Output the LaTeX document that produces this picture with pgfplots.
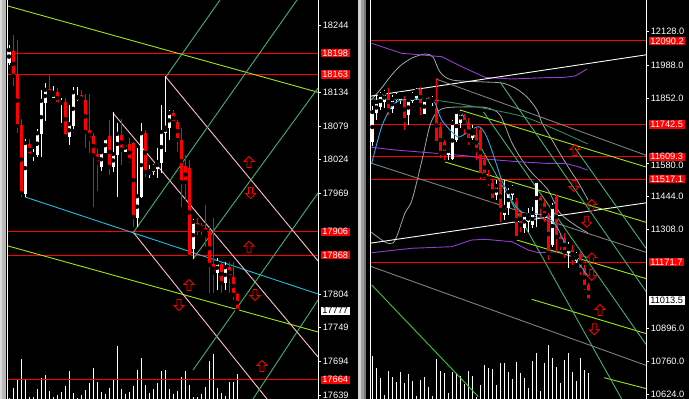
\documentclass[border=0pt]{standalone}
\usepackage{pgfplots}
\pgfplotsset{compat=1.18}
\usepackage{pgfplotstable}
\usepackage{fontspec}
\setmainfont{Liberation Sans}

\definecolor{ygreen}{RGB}{160,230,20}
\definecolor{cyanl}{RGB}{30,190,220}
\definecolor{pinkl}{RGB}{255,192,203}
\definecolor{greenl}{RGB}{60,179,113}
\definecolor{seag}{RGB}{46,139,87}
\definecolor{purp}{RGB}{150,60,210}
\definecolor{skyb}{RGB}{40,170,240}
\definecolor{silv}{RGB}{165,165,165}
\definecolor{grayl}{RGB}{128,128,128}
\definecolor{limeg}{RGB}{50,205,50}

\pgfdeclareplotmark{uparr}{%
 \pgfpathmoveto{\pgfqpoint{0bp}{5.5bp}}
 \pgfpathlineto{\pgfqpoint{5bp}{0.5bp}}
 \pgfpathlineto{\pgfqpoint{2bp}{0.5bp}}
 \pgfpathlineto{\pgfqpoint{2bp}{-5.5bp}}
 \pgfpathlineto{\pgfqpoint{-2bp}{-5.5bp}}
 \pgfpathlineto{\pgfqpoint{-2bp}{0.5bp}}
 \pgfpathlineto{\pgfqpoint{-5bp}{0.5bp}}
 \pgfpathclose\pgfusepathqstroke}
\pgfdeclareplotmark{dnarr}{%
 \pgfpathmoveto{\pgfqpoint{0bp}{-5.5bp}}
 \pgfpathlineto{\pgfqpoint{5bp}{-0.5bp}}
 \pgfpathlineto{\pgfqpoint{2bp}{-0.5bp}}
 \pgfpathlineto{\pgfqpoint{2bp}{5.5bp}}
 \pgfpathlineto{\pgfqpoint{-2bp}{5.5bp}}
 \pgfpathlineto{\pgfqpoint{-2bp}{-0.5bp}}
 \pgfpathlineto{\pgfqpoint{-5bp}{-0.5bp}}
 \pgfpathclose\pgfusepathqstroke}

% left panel candles: i open high low close
\pgfplotstableread{
i o h l c
0 18182 18211 18179 18203
4 17969 18058 17963 18051
6 18030 18041 18022 18033
7 18033 18074 18028 18067
8 18067 18138 18028 18120
9 18118 18149 18087 18138
11 18126 18144 18124 18133
13 18115 18125 18084 18118
15 18062 18113 18048 18082
16 18080 18143 18074 18134
17 18123 18143 18120 18126
23 18013 18040 18005 18036
24 18036 18061 18035 18059
26 18012 18102 18004 18033
27 18033 18084 17963 18066
29 18038 18053 18036 18049
32 17930 18043 17914 17964
33 17963 18084 17961 18067
35 17999 18015 17994 18005
36 18004 18017 17999 18012
37 18010 18043 17994 18020
38 18020 18113 18002 18069
39 18069 18160 18036 18076
40 18076 18105 18056 18100
46 17879 17927 17861 17922
52 17839 17863 17811 17855
54 17823 17857 17811 17848
}\Lbull
\pgfplotstableread{
i o h l c
1 18200 18228 18144 18161
2 18162 18220 18067 18079
3 18079 18090 17963 17969
5 18049 18058 18028 18031
10 18138 18164 18128 18131
12 18134 18141 18112 18115
14 18118 18125 18059 18062
18 18128 18138 18116 18120
19 18120 18131 18043 18069
20 18071 18131 18035 18058
21 18061 18067 17946 18031
22 18033 18041 17973 18018
25 18061 18089 17999 18012
28 18064 18090 18015 18040
30 18048 18059 18018 18023
31 18051 18053 17914 17930
34 18066 18072 17996 18004
41 18100 18105 18080 18084
42 18085 18088 18036 18056
43 18056 18076 17946 17987
44 18012 18031 17958 17987
45 18010 18023 17862 17865
47 17920 17928 17901 17910
48 17917 17921 17901 17909
49 17912 17950 17881 17901
50 17906 17915 17806 17852
51 17852 17928 17806 17839
53 17852 17857 17806 17822
55 17847 17857 17806 17832
56 17832 17857 17794 17803
57 17803 17806 17775 17777
}\Lbear
\pgfplotstableread{
i v
0 1
1 10.7
2 19.7
3 40
4 19.7
5 2.3
6 2.3
7 10
8 21.3
9 24
10 8
11 2.3
12 4
13 6.7
14 13
15 28
16 5.7
17 1.3
18 3.7
19 9
20 16.3
21 30.7
22 17.3
23 7.3
24 4.7
25 10.7
26 19
27 53.3
28 10
29 4.7
30 7.3
31 13
32 29
33 40.7
34 14
35 5.7
36 9.7
37 16.3
38 28.3
39 29
40 9.7
41 4.7
42 8
43 22.3
44 28
45 14
46 2.3
47 2.3
48 4.7
49 11.7
50 38
51 45
52 10.7
53 5.7
54 3
55 17.3
56 17.3
57 25.3
}\Lvol

% right panel candles
\pgfplotstableread{
k o h l c
0 11670.5 11819.8 11653.9 11794.9
1 11790.8 11865.4 11761.7 11836.4
2 11815.7 11877.9 11803.2 11865.4
3 11836.4 11886.2 11811.5 11873.7
5 11807.4 11865.4 11790.8 11848.8
6 11848.8 11873.7 11832.3 11861.3
7 11844.7 11877.9 11828.1 11869.6
9 11782.5 11853.0 11741.0 11844.7
10 11840.6 11877.9 11832.3 11865.4
11 11857.1 11894.5 11844.7 11882.0
13 11790.8 11853.0 11786.6 11844.7
15 11832.3 11861.3 11819.8 11848.8
19 11616.6 11658.0 11595.8 11649.7
20 11604.1 11761.7 11595.8 11749.3
21 11678.8 11803.2 11670.5 11794.9
22 11753.4 11803.2 11728.6 11790.8
25 11691.2 11741.0 11678.8 11720.3
31 11450.6 11512.9 11429.9 11488.0
33 11367.7 11512.9 11347.0 11400.9
34 11396.7 11479.7 11367.7 11463.1
35 11450.6 11492.1 11429.9 11479.7
38 11313.8 11376.0 11293.0 11367.7
39 11338.6 11396.7 11297.2 11367.7
40 11326.2 11400.9 11313.8 11376.0
41 11367.7 11512.9 11317.9 11508.7
45 11243.2 11417.5 11235.0 11400.9
49 11214.2 11255.7 11147.8 11239.1
51 11181.0 11214.2 11168.6 11201.8
}\Rbull
\pgfplotstableread{
k o h l c
4 11869.6 11894.5 11782.5 11803.2
8 11848.8 11861.3 11720.3 11761.7
12 11890.3 11898.6 11782.5 11824.0
14 11848.8 11857.1 11824.0 11832.3
16 11811.5 11936.0 11658.0 11666.3
17 11732.7 11753.4 11604.1 11624.9
18 11670.5 11678.8 11595.8 11624.9
23 11774.2 11786.6 11699.5 11732.7
24 11749.3 11770.0 11658.0 11678.8
26 11699.5 11728.6 11595.8 11637.3
27 11720.3 11728.6 11512.9 11533.6
28 11595.8 11616.6 11521.2 11533.6
29 11533.6 11554.3 11488.0 11504.6
30 11500.4 11512.9 11417.5 11429.9
32 11500.4 11521.2 11338.6 11388.4
36 11421.6 11438.2 11264.0 11272.3
37 11376.0 11388.4 11297.2 11326.2
42 11438.2 11446.5 11359.4 11400.9
43 11417.5 11429.9 11338.6 11367.7
44 11367.7 11376.0 11181.0 11210.1
46 11442.3 11450.6 11214.2 11276.4
47 11276.4 11293.0 11222.5 11243.2
48 11272.3 11293.0 11189.3 11214.2
50 11222.5 11243.2 11160.3 11189.3
52 11201.8 11214.2 11118.8 11139.5
53 11147.8 11160.3 11056.6 11069.0
54 11077.3 11085.6 11011.0 11013.5
}\Rbear
\pgfplotstableread{
k v
0 43
1 30.7
2 20.7
3 4
4 28.3
5 21.7
6 17.3
7 26.7
8 15.7
9 24.7
10 18
11 3.3
12 19
13 21.7
14 12.3
15 3
16 40
17 28.3
18 25.7
19 5.7
20 27.3
21 25.7
22 23.3
23 14.7
24 28
25 23.3
26 2.3
27 14
28 34
29 30.7
30 30
31 14
32 35.7
33 35.7
34 27.3
35 19.7
36 36.7
37 26.3
38 20.7
39 10.7
40 38
41 46.3
42 8
43 36.3
44 54
45 40.7
46 32.3
47 15.7
48 39
49 46.3
50 27.3
51 18.3
52 41.3
53 29
54 26.3
}\Rvol

\pgfplotsset{
 mt/.style={anchor=south west, scale only axis, height=399bp,
  axis x line=none, axis y line*=right,
  y axis line style={white, line width=1bp, -},
  tick align=outside, major tick length=3bp,
  tick style={white, line width=0.8bp},
  scaled y ticks=false,
  yticklabel style={text=white, font=\fontsize{9.3}{10}\selectfont, inner xsep=1.6bp, inner ysep=0bp},
  /pgf/number format/assume math mode=true,
  /pgf/number format/1000 sep={},
  clip=true},
 vol/.style={anchor=south west, scale only axis, height=399bp, ymin=0, ymax=399, hide axis},
 wick/.style={only marks, mark=none, error bars/.cd, y dir=both, y explicit, error mark=none,
   error bar style={line width=0.9bp, draw=#1}},
 body/.style={only marks, mark=none, error bars/.cd, y dir=both, y explicit, error mark=none,
   error bar style={line width=3bp, draw=#1}},
 arr/.style={only marks, mark=#1, mark options={draw=red, fill=none, line width=0.8bp}},
 tl/.style={line width=0.9bp, mark=none},
}
\tikzset{plab/.style={fill=#1, anchor=west, inner xsep=1.6bp, inner ysep=0.9bp, font=\fontsize{9.3}{10}\selectfont, xshift=2.5bp}}

\begin{document}
\begin{tikzpicture}
\path[use as bounding box, fill=black] (0,0) rectangle (689bp,399bp);
\fill[gray!55] (0,0) rectangle (6bp,399bp);
\fill[gray!30] (0,0) rectangle (2bp,399bp);
\draw[white, line width=1bp] (7.5bp,0) -- (7.5bp,399bp);
\fill[gray!75] (358bp,0) rectangle (366bp,399bp);
\fill[gray!35] (358bp,0) rectangle (361bp,399bp);
\fill[gray!95!black] (363.5bp,0) rectangle (366bp,399bp);
\draw[white, line width=1bp] (370.5bp,0) -- (370.5bp,399bp);

% ---------- LEFT PANEL ----------
\begin{axis}[vol, at={(8bp,0)}, width=310bp, xmin=-0.25, xmax=77.25]
\addplot[ycomb, white, line width=0.9bp, mark=none] table[x=i, y=v] {\Lvol};
\end{axis}

\begin{axis}[mt, at={(8bp,0)}, width=310bp, xmin=-0.25, xmax=77.25, ymin=17632.5, ymax=18284.9,
  ytick={17639,17694,17749,17804,17969,18024,18079,18134,18244},
  /pgf/number format/fixed, /pgf/number format/precision=0]
\addplot[tl, red] coordinates {(-0.25,18198) (77.25,18198)};
\addplot[tl, red] coordinates {(-0.25,18163) (77.25,18163)};
\addplot[tl, red] coordinates {(-0.25,17906) (77.25,17906)};
\addplot[tl, red] coordinates {(-0.25,17868) (77.25,17868)};
\addplot[tl, red] coordinates {(-0.25,17664) (77.25,17664)};
\addplot[tl, ygreen] coordinates {(-0.25,18275) (77.25,18134)};
\addplot[tl, ygreen] coordinates {(-0.25,17882.7) (77.25,17742.1)};
\addplot[tl, cyanl] coordinates {(4,17962.8) (77.25,17804.2)};
\addplot[tl, pinkl] coordinates {(39.2,18159) (77.25,17858.2)};
\addplot[tl, pinkl] coordinates {(26,18100.1) (77.25,17701.2)};
\addplot[tl, pinkl] coordinates {(31,17905.6) (64.5,17632.5)};
\addplot[tl, greenl] coordinates {(39.2,18159) (52.75,18284.9)};
\addplot[tl, greenl] coordinates {(31,17904) (72,18284.9)};
\addplot[tl, greenl] coordinates {(46,17861.4) (77.25,18141.0)};
\addplot[tl, greenl] coordinates {(46,17679.9) (77.25,17969.4)};
\addplot[tl, greenl] coordinates {(61,17632.5) (77.25,17794.4)};
\addplot[wick=white] table[x=i, y=c, y error plus expr={\thisrow{h}-\thisrow{c}}, y error minus expr={\thisrow{c}-\thisrow{l}}] {\Lbull};
\addplot[wick=red] table[x=i, y=c, y error plus expr={\thisrow{h}-\thisrow{c}}, y error minus expr={\thisrow{c}-\thisrow{l}}] {\Lbear};
\addplot[body=white] table[x=i, y expr={(\thisrow{o}+\thisrow{c})/2}, y error expr={abs(\thisrow{o}-\thisrow{c})/2+0.8}] {\Lbull};
\addplot[body=red] table[x=i, y expr={(\thisrow{o}+\thisrow{c})/2}, y error expr={abs(\thisrow{o}-\thisrow{c})/2+0.8}] {\Lbear};
\addplot[arr=uparr] coordinates {(60,18020) (60,17881.5) (45,17818.9) (63.25,17686.5)};
\addplot[arr=dnarr] coordinates {(60.4,17969.3) (42.5,17786.2) (61.5,17802.6)};
\coordinate (L1) at (axis cs:77.25,18198);
\coordinate (L2) at (axis cs:77.25,18163);
\coordinate (L3) at (axis cs:77.25,17906);
\coordinate (L4) at (axis cs:77.25,17868);
\coordinate (L5) at (axis cs:77.25,17664);
\coordinate (lastL) at (axis cs:77.25,17777);
\end{axis}
\node[plab=red, text=white] at (L1) {18198};
\node[plab=red, text=white] at (L2) {18163};
\node[plab=red, text=white] at (L3) {17906};
\node[plab=red, text=white] at (L4) {17868};
\node[plab=red, text=white] at (L5) {17664};
\node[plab=white, text=black] at (lastL) {17777};

% ---------- RIGHT PANEL ----------
\begin{axis}[vol, at={(371bp,0)}, width=275bp, xmin=-0.325, xmax=68.425]
\addplot[ycomb, white, line width=0.9bp, mark=none] table[x=k, y=v] {\Rvol};
\end{axis}

\begin{axis}[mt, at={(371bp,0)}, width=275bp, xmin=-0.325, xmax=68.425, ymin=10604.4, ymax=12259.5,
  ytick={10624,10760,10896,11308,11444,11580,11852,11988,12128},
  yticklabels={10624.0,10760.0,10896.0,11308.0,11444.0,,11852.0,11988.0,12128.0}]
\addplot[tl, red] coordinates {(-0.325,12090.2) (68.425,12090.2)};
\addplot[tl, red] coordinates {(-0.325,11742.5) (68.425,11742.5)};
\addplot[tl, red] coordinates {(-0.325,11609.3) (68.425,11609.3)};
\addplot[tl, red] coordinates {(-0.325,11517.1) (68.425,11517.1)};
\addplot[tl, red] coordinates {(-0.325,11171.7) (68.425,11171.7)};
% bands
\addplot[line width=0.8bp, silv, smooth] coordinates {(-0.33,11844.7) (1.93,11886.2) (4.43,11940.1) (6.93,11985.7) (9.93,12018.9) (13.18,12035.5) (15.18,12023.1) (16.93,11960.8) (19.93,11927.7) (28.18,11919.4) (32.43,11915.2) (35.68,11894.5) (38.68,11857.1) (41.18,11803.2) (42.43,11749.3) (44.93,11678.8) (47.43,11608.3) (49.93,11541.9) (51.43,11504.6) (53.93,11429.9)};
\addplot[line width=0.8bp, silv, smooth] coordinates {(-0.33,11297.2) (3.18,11255.7) (5.18,11251.5) (6.43,11293.0) (8.18,11376.0) (9.93,11429.9) (12.43,11595.8) (14.43,11741.0) (16.18,11794.9) (18.18,11811.5) (21.43,11815.7) (26.43,11815.7) (28.93,11811.5) (31.93,11782.5) (34.93,11666.3) (37.43,11595.8) (39.93,11541.9) (43.93,11471.4) (46.93,11376.0) (50.68,11326.2) (53.93,11293.0)};
% purple envelopes
\addplot[tl, purp] coordinates {(-0.15,12079.9) (7.35,12038.4) (12.35,12031.4) (17.35,12024.3) (22.35,11982.8) (28.18,11938.9) (34.85,11931.8) (43.18,11937.2) (48.18,11938.9) (50.68,11944.3) (53.6,11972.1)};
\addplot[tl, purp] coordinates {(-0.15,11648.5) (5.68,11637.3) (18.18,11620.7) (23.93,11612.4) (28.93,11598.7) (36.43,11588.7) (43.18,11582.1) (48.18,11582.1) (51.43,11568.0) (53.85,11554.3)};
\addplot[tl, purp] coordinates {(-0.15,11211.3) (9.85,11229.6) (19.85,11236.2) (24.85,11264.0) (28.18,11266.9) (34.85,11256.9) (39,11222.5) (41.5,11211.3) (46.5,11215.5) (49,11208.8) (51.5,11201.8) (53.85,11192.2)};
% trend lines
\addplot[tl, white] coordinates {(-0.325,11860.9) (68.425,12032.0)};
\addplot[tl, white] coordinates {(-0.325,11251.1) (68.425,11418.1)};
\addplot[tl, grayl] coordinates {(16.1,11930.6) (68.425,11615.5)};
\addplot[tl, grayl] coordinates {(-0.325,11583.0) (68.425,11212.9)};
\addplot[tl, grayl] coordinates {(-0.325,11154.2) (68.425,10744.0)};
\addplot[tl, seag, smooth] coordinates {(-0.325,11848) (14.85,11844.7) (26.5,11814.4) (39,11768.8) (53.85,11662.2)};
\addplot[tl, ygreen] coordinates {(21.93,11803.2) (68.425,11566.8)};
\addplot[tl, ygreen] coordinates {(18.18,11587.5) (68.425,11337.4)};
\addplot[tl, ygreen] coordinates {(36.1,11264.0) (68.425,11103.9)};
\addplot[tl, ygreen] coordinates {(39.85,11018.0) (68.425,10875.7)};
\addplot[tl, ygreen] coordinates {(57.93,10692.8) (68.425,10647.7)};
\addplot[tl, greenl] coordinates {(31.93,11919.4) (68.425,11050.8)};
\addplot[tl, greenl] coordinates {(50.68,11645.6) (68.425,11229.3)};
\addplot[tl, greenl] coordinates {(22.18,11794.9) (62.35,10604.4)};
\addplot[tl, greenl] coordinates {(27.8,11794.9) (68.425,10830.8)};
\addplot[tl, limeg] coordinates {(-0.15,11077.3) (26.5,10614.0)};
% candles
\addplot[wick=white] table[x=k, y=c, y error plus expr={\thisrow{h}-\thisrow{c}}, y error minus expr={\thisrow{c}-\thisrow{l}}] {\Rbull};
\addplot[wick=red] table[x=k, y=c, y error plus expr={\thisrow{h}-\thisrow{c}}, y error minus expr={\thisrow{c}-\thisrow{l}}] {\Rbear};
\addplot[body=white] table[x=k, y expr={(\thisrow{o}+\thisrow{c})/2}, y error expr={abs(\thisrow{o}-\thisrow{c})/2+2}] {\Rbull};
\addplot[body=red] table[x=k, y expr={(\thisrow{o}+\thisrow{c})/2}, y error expr={abs(\thisrow{o}-\thisrow{c})/2+2}] {\Rbear};
% moving average
\addplot[tl, skyb, smooth] coordinates {(-0.15,11582.1) (2.35,11733.9) (4.85,11816.9) (7.35,11844.7) (14,11848.8) (15.68,11832.3) (17.35,11761.7) (20.68,11699.5) (21.93,11692.4) (24,11713.2) (26.5,11733.9) (28.18,11706.5) (29.85,11637.3) (32.35,11512.9) (34,11457.7) (35.25,11416.3) (37.75,11374.8) (40.25,11374.8) (43.6,11360.7) (46.1,11319.2) (48.6,11236.2) (51.1,11181.0) (52.75,11139.5) (53.93,11114.6)};
\addplot[arr=uparr] coordinates {(50.68,11637.3) (54.85,11409.2) (54.85,11188.0) (56.93,10973.6)};
\addplot[arr=dnarr] coordinates {(50.43,11488.0) (53.6,11339.9) (54.85,11118.8) (55.5,10893.5)};
\coordinate (R1) at (axis cs:68.425,12090.2);
\coordinate (R2) at (axis cs:68.425,11742.5);
\coordinate (R3) at (axis cs:68.425,11609.3);
\coordinate (R4) at (axis cs:68.425,11517.1);
\coordinate (R5) at (axis cs:68.425,11171.7);
\coordinate (lastR) at (axis cs:68.425,11013.5);
\coordinate (T580) at (axis cs:68.425,11580);
\end{axis}
\node[text=white, anchor=west, inner xsep=1.6bp, inner ysep=0bp, font=\fontsize{9.3}{10}\selectfont, xshift=3bp, yshift=-2bp] at (T580) {11580.0};
\node[plab=red, text=white] at (R1) {12090.2};
\node[plab=red, text=white] at (R2) {11742.5};
\node[plab=red, text=white] at (R3) {11609.3};
\node[plab=red, text=white] at (R4) {11517.1};
\node[plab=red, text=white] at (R5) {11171.7};
\node[plab=white, text=black] at (lastR) {11013.5};
\end{tikzpicture}
\end{document}
